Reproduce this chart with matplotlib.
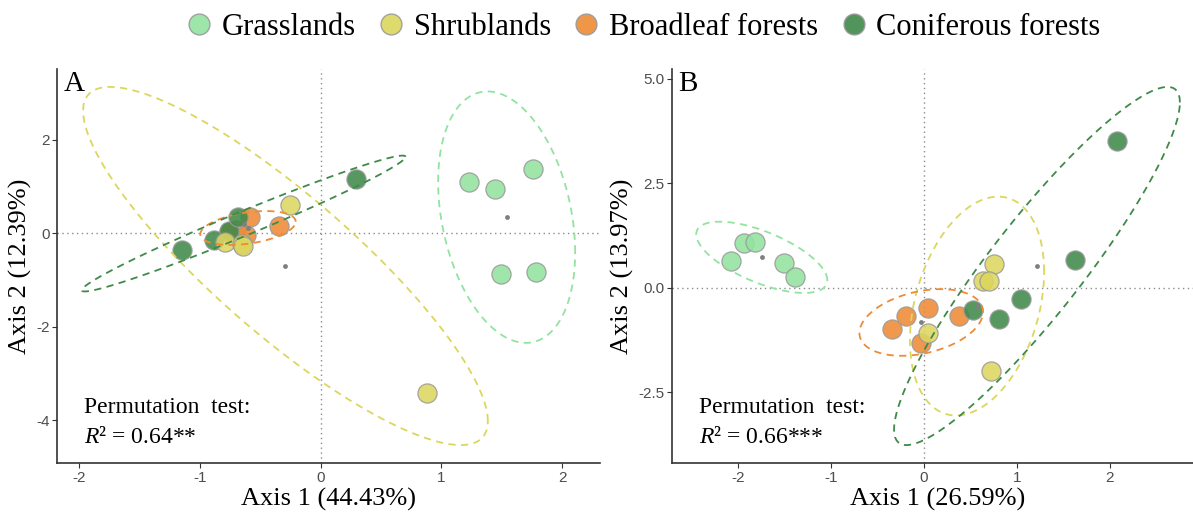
import numpy as np
import matplotlib.pyplot as plt
from matplotlib.lines import Line2D

plt.rcParams['font.family'] = ['Liberation Serif', 'DejaVu Serif']
plt.rcParams['mathtext.fontset'] = 'custom'
plt.rcParams['mathtext.it'] = 'Liberation Serif:italic'
plt.rcParams['mathtext.rm'] = 'Liberation Serif'

groups = ['Grasslands', 'Shrublands', 'Broadleaf forests', 'Coniferous forests']
colors = ['#93E3A0', '#DCD65E', '#EE8B35', '#3F8A49']

# panel A (Axis 1 44.43 %, Axis 2 12.39 %)
a_grass_x = [1.23, 1.44, 1.76, 1.49, 1.78]
a_grass_y = [1.09, 0.95, 1.38, -0.86, -0.83]
a_shrub_x = [-0.25, 0.88, -0.79, -0.65, -0.64]
a_shrub_y = [0.61, -3.42, -0.19, -0.22, -0.27]
a_broad_x = [-0.58, -0.34, -0.70, -0.62, -0.76]
a_broad_y = [0.35, 0.15, 0.08, -0.03, 0.02]
a_conif_x = [0.29, -1.15, -0.88, -0.76, -0.68]
a_conif_y = [1.16, -0.36, -0.15, 0.04, 0.36]

# panel B (Axis 1 26.59 %, Axis 2 13.97 %)
b_grass_x = [-2.07, -1.93, -1.82, -1.50, -1.39]
b_grass_y = [0.64, 1.06, 1.09, 0.60, 0.26]
b_shrub_x = [0.75, 0.64, 0.70, 0.05, 0.72]
b_shrub_y = [0.57, 0.16, 0.16, -1.07, -2.00]
b_broad_x = [0.04, -0.19, -0.34, -0.03, 0.38]
b_broad_y = [-0.48, -0.68, -0.99, -1.31, -0.68]
b_conif_x = [2.08, 1.62, 1.04, 0.81, 0.53]
b_conif_y = [3.50, 0.66, -0.26, -0.75, -0.54]

panels = [
    ('A', [(a_grass_x, a_grass_y), (a_shrub_x, a_shrub_y), (a_broad_x, a_broad_y), (a_conif_x, a_conif_y)],
     'Axis 1 (44.43%)', 'Axis 2 (12.39%)', '0.64**',
     [-2, -1, 0, 1, 2], ['-2', '-1', '0', '1', '2'], [-4, -2, 0, 2], ['-4', '-2', '0', '2']),
    ('B', [(b_grass_x, b_grass_y), (b_shrub_x, b_shrub_y), (b_broad_x, b_broad_y), (b_conif_x, b_conif_y)],
     'Axis 1 (26.59%)', 'Axis 2 (13.97%)', '0.66***',
     [-2, -1, 0, 1, 2], ['-2', '-1', '0', '1', '2'], [-2.5, 0, 2.5, 5], ['-2.5', '0.0', '2.5', '5.0']),
]


def sd_ellipse(x, y, conf=0.95, segments=100):
    # like vegan ordiellipse(kind = "sd", conf = 0.95)
    xy = np.column_stack([x, y])
    loc = xy.mean(axis=0)
    cov = np.cov(xy.T)
    scale = np.sqrt(-2 * np.log(1 - conf))  # sqrt(qchisq(conf, 2))
    upper = np.linalg.cholesky(cov).T
    t = np.linspace(0, 2 * np.pi, segments + 1)
    circ = np.column_stack([np.cos(t), np.sin(t)])
    return loc + scale * circ @ upper


fig = plt.figure(figsize=(11.93, 5.16), dpi=100)
boxes = [[0.0478, 0.1027, 0.455, 0.7636], [0.5633, 0.1027, 0.446, 0.7636]]

for box, (tag, data, xlab, ylab, r2, xt, xtl, yt, ytl) in zip(boxes, panels):
    ax = fig.add_axes(box)
    allx, ally = [], []
    ells = []
    for (x, y), c in zip(data, colors):
        e = sd_ellipse(x, y)
        ells.append(e)
        allx += list(x) + list(e[:, 0])
        ally += list(y) + list(e[:, 1])
    ax.axhline(0, color='#8c8c8c', lw=1, ls=(0, (1, 2.5)), zorder=1)
    ax.axvline(0, color='#8c8c8c', lw=1, ls=(0, (1, 2.5)), zorder=1)
    for i in [0, 2, 3, 1]:
        x, y = data[i]
        ax.scatter(x, y, s=190, color=colors[i], alpha=0.88, edgecolor='#9a9a9a', linewidth=0.9, zorder=3)
    for (x, y), c, e in zip(data, colors, ells):
        ax.plot(e[:, 0], e[:, 1], color=c, lw=1.3, ls=(0, (4, 3)), zorder=4)
        ax.scatter([np.mean(x)], [np.mean(y)], s=12, color='#7f7f7f', zorder=5, linewidth=0)
    x0, x1 = min(allx), max(allx)
    y0, y1 = min(ally), max(ally)
    ax.set_xlim(x0 - 0.05 * (x1 - x0), x1 + 0.05 * (x1 - x0))
    ax.set_ylim(y0 - 0.05 * (y1 - y0), y1 + 0.05 * (y1 - y0))
    ax.set_xticks(xt)
    ax.set_xticklabels(xtl)
    ax.set_yticks(yt)
    ax.set_yticklabels(ytl)
    for s in ['top', 'right']:
        ax.spines[s].set_visible(False)
    for s in ['left', 'bottom']:
        ax.spines[s].set_color('#333333')
        ax.spines[s].set_linewidth(1.2)
    ax.tick_params(length=3.5, width=0.8, color='#333333', labelcolor='#4d4d4d', labelsize=11, pad=2)
    for lab in ax.get_xticklabels() + ax.get_yticklabels():
        lab.set_family('Liberation Sans')
    ax.set_xlabel(xlab, fontsize=19, labelpad=2)
    ax.set_ylabel(ylab, fontsize=19, labelpad=3)
    ax.text(0.012, 0.995, tag, transform=ax.transAxes, fontsize=21, va='top', ha='left')
    ax.text(0.05, 0.142, 'Permutation  test:', transform=ax.transAxes, fontsize=17, va='center')
    ax.text(0.05, 0.066, '$R$\u00b2 = ' + r2, transform=ax.transAxes, fontsize=17, va='center')

handles = [Line2D([], [], ls='none', marker='o', markersize=15, markerfacecolor=c, alpha=0.9,
                  markeredgecolor='#9a9a9a', markeredgewidth=1) for c in colors]
fig.legend(handles, groups, loc='center', bbox_to_anchor=(0.537, 0.947), ncol=4, frameon=False,
           fontsize=22, handletextpad=0.15, columnspacing=0.55, handlelength=1.2)

fig.savefig('out.png', dpi=100)
